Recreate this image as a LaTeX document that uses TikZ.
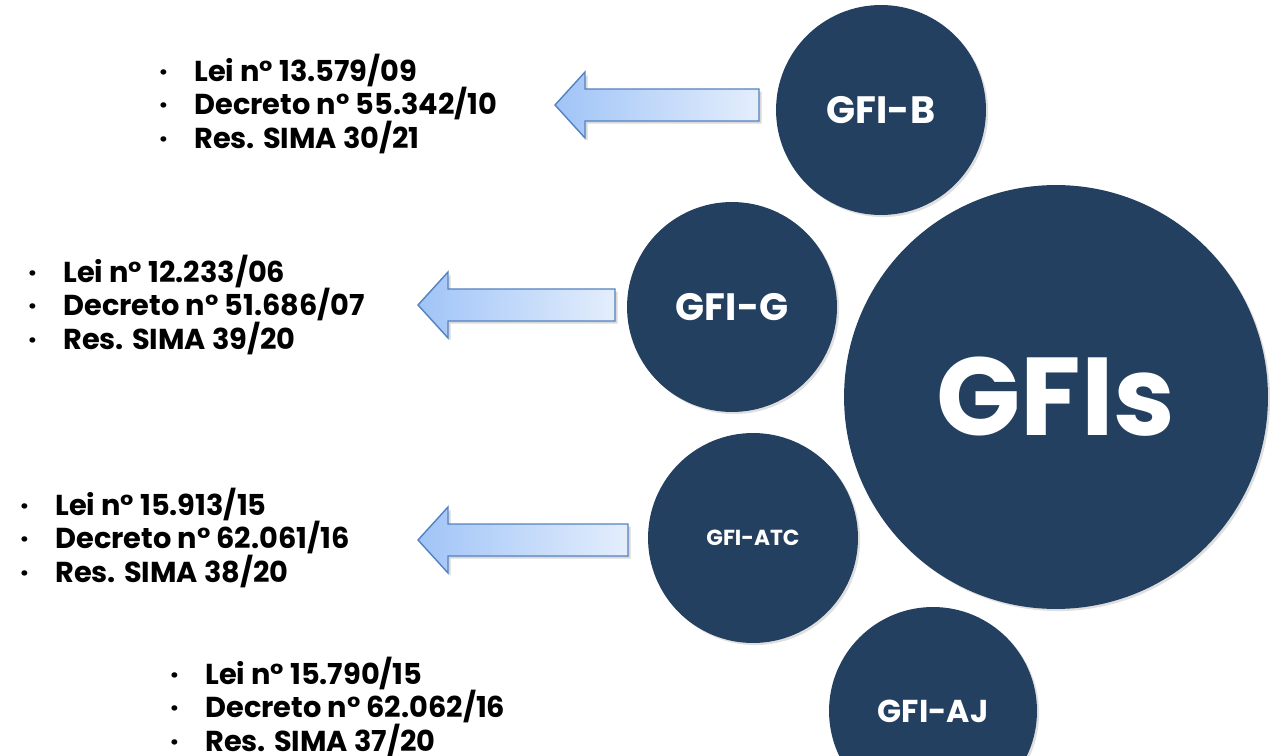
\documentclass[tikz,border=0pt]{standalone}
\usepackage{fontspec}
\setmainfont{Poppins}
\usepackage{xcolor}
\usetikzlibrary{shapes,positioning,shadows,calc}

\definecolor{azulgfi}{RGB}{36,64,96}
\definecolor{setaesq}{RGB}{160,196,247}
\definecolor{setadir}{RGB}{228,238,252}
\definecolor{setaborda}{RGB}{84,130,192}

\newcommand{\pto}{\makebox[0.70cm][l]{·}}

\tikzset{
  bolha/.style={circle, fill=azulgfi, text=white, inner sep=0pt, font=\bfseries,
    drop shadow={opacity=0.25, shadow xshift=1.2pt, shadow yshift=-1.2pt}},
  seta/.style={draw=setaborda, line width=0.8pt, left color=setaesq, right color=setadir,
    drop shadow={opacity=0.3, shadow xshift=1.5pt, shadow yshift=-1.5pt}},
  lista/.style={anchor=west, align=left, inner sep=0pt,
    font=\bfseries\fontsize{16.4}{19.3}\selectfont}
}

\begin{document}
\begin{tikzpicture}[x=0.02cm, y=-0.02cm]
\useasboundingbox (0,0) rectangle (1270,756);

% circulos
\node[bolha, minimum size=8.48cm, font=\bfseries\fontsize{63}{63}\selectfont] (gfis) at (1056,397) {GFIs};
\node[bolha, minimum size=4.2cm, font=\bfseries\fontsize{21.7}{21.7}\selectfont] (gfib) at (881,110) {GFI-B};
\node[bolha, minimum size=4.2cm, font=\bfseries\fontsize{21.7}{21.7}\selectfont] (gfig) at (732,307) {GFI-G};
\node[bolha, minimum size=4.2cm, font=\bfseries\fontsize{12.4}{12.4}\selectfont] (gfiatc) at (753,538) {GFI-ATC};
\node[bolha, minimum size=4.16cm, font=\bfseries\fontsize{18}{18}\selectfont] (gfiaj) at (933,711) {GFI-AJ};

% setas
\path[seta] (555,105) -- (585,72) -- (585,89) -- (759,89) -- (759,121) -- (585,121) -- (585,138) -- cycle;
\path[seta] (418,305) -- (448,272) -- (448,289) -- (615,289) -- (615,321) -- (448,321) -- (448,338) -- cycle;
\path[seta] (418,540) -- (448,507) -- (448,524) -- (628,524) -- (628,556) -- (448,556) -- (448,573) -- cycle;

% legislacao
\node[lista] (leib) at (159,104) {\pto Lei n° 13.579/09\\ \pto Decreto n° 55.342/10\\ \pto Res. SIMA 30/21};
\node[lista] (leig) at (28,305) {\pto Lei n° 12.233/06\\ \pto Decreto n° 51.686/07\\ \pto Res. SIMA 39/20};
\node[lista] (leiatc) at (20,538) {\pto Lei n° 15.913/15\\ \pto Decreto n° 62.061/16\\ \pto Res. SIMA 38/20};
\node[lista] (leiaj) at (170,707) {\pto Lei n° 15.790/15\\ \pto Decreto n° 62.062/16\\ \pto Res. SIMA 37/20};
\end{tikzpicture}
\end{document}
